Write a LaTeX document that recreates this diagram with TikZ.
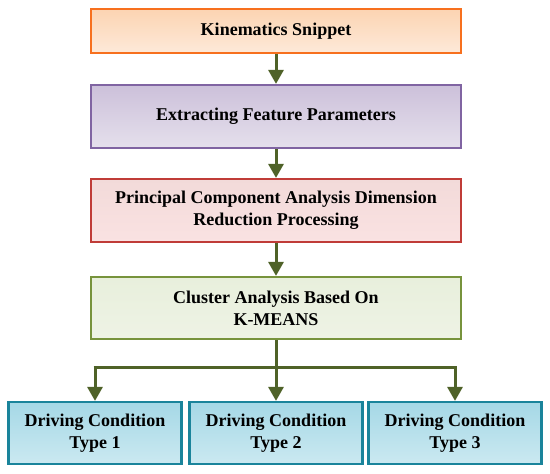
\documentclass[tikz,border=0pt]{standalone}
\usepackage{fontspec}
\setmainfont{Liberation Serif}
\usepackage{tikz}
\usetikzlibrary{arrows.meta}

\definecolor{orangeline}{RGB}{247,112,30}
\definecolor{purpleline}{RGB}{128,100,162}
\definecolor{redline}{RGB}{192,60,56}
\definecolor{greenline}{RGB}{119,147,60}
\definecolor{blueline}{RGB}{26,132,155}
\definecolor{arrowgreen}{RGB}{79,98,40}

\begin{document}
\begin{tikzpicture}[x=1pt, y=-1pt,
    box/.style={draw, line width=2.2pt, align=center, inner sep=0pt,
      font=\fontsize{18}{22}\selectfont\bfseries},
    wide/.style={box, minimum width=370pt},
    small/.style={box, minimum width=173pt, minimum height=62pt},
    conn/.style={arrowgreen, line width=3pt},
    arr/.style={conn, -{Triangle[length=14pt, width=15pt]}}]
  \useasboundingbox (0,0) rectangle (550,474);

  % Main chain of steps
  \node[wide, minimum height=44pt, draw=orangeline,
    top color={rgb,255:red,252;green,212;blue,178}, bottom color={rgb,255:red,253;green,233;blue,217}]
    (kin) at (276,31) {Kinematics Snippet};
  \node[wide, minimum height=63pt, draw=purpleline,
    top color={rgb,255:red,204;green,192;blue,218}, bottom color={rgb,255:red,229;green,224;blue,236}]
    (feat) at (276,116.5) {Extracting Feature Parameters};
  \node[wide, minimum height=63pt, draw=redline,
    top color={rgb,255:red,242;green,218;blue,217}, bottom color={rgb,255:red,250;green,226;blue,226}]
    (pca) at (276,210.5) {Principal Component Analysis Dimension\\Reduction Processing};
  \node[wide, minimum height=62pt, draw=greenline,
    top color={rgb,255:red,232;green,239;blue,220}, bottom color={rgb,255:red,238;green,243;blue,229}]
    (clu) at (276,308) {Cluster Analysis Based On\\K-MEANS};

  % Three driving condition types
  \foreach \name/\cx/\num in {drvA/95/1, drvB/276/2, drvC/455/3}
    \node[small, draw=blueline,
      top color={rgb,255:red,165;green,216;blue,230}, bottom color={rgb,255:red,203;green,233;blue,241}]
      (\name) at (\cx,433) {Driving Condition\\Type \num};

  % Arrows
  \draw[arr] (kin) -- (feat);
  \draw[arr] (feat) -- (pca);
  \draw[arr] (pca) -- (clu);

  % Branching
  \coordinate (split) at (276,367);
  \draw[conn] (clu.south) -- (split);
  \draw[conn] ([xshift=-1.5pt]drvA.north |- split) -- ([xshift=1.5pt]drvC.north |- split);
  \draw[arr] (drvA.north |- split) -- (drvA.north);
  \draw[arr] (split) -- (drvB.north);
  \draw[arr] (drvC.north |- split) -- (drvC.north);

\end{tikzpicture}
\end{document}
